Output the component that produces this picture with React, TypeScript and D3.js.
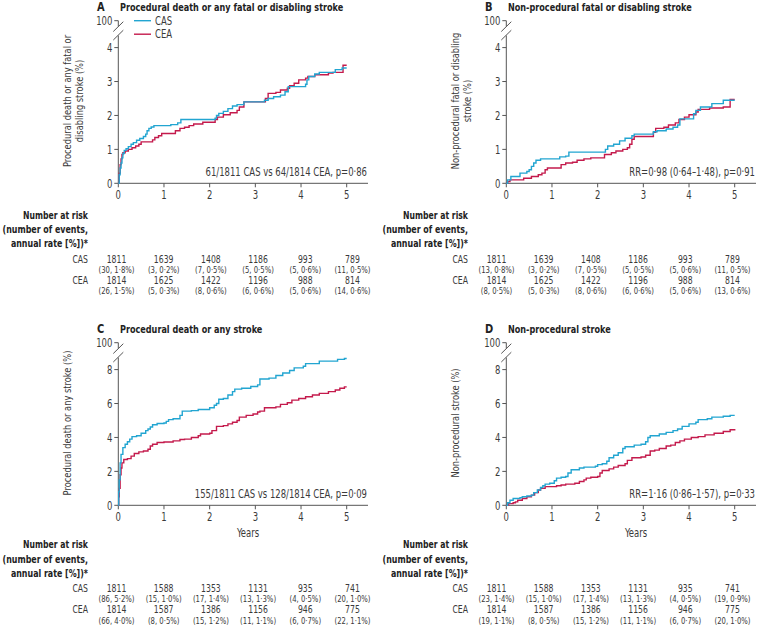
import React from 'react';
import * as d3 from 'd3';

type Pt = [number, number];

const yearTicks = [0, 1, 2, 3, 4, 5];
const seriesNames = ['CAS', 'CEA'];

// Panel A: procedural death or any fatal or disabling stroke
const casA: Pt[] = [[0,0],[0.02,0.25],[0.04,0.45],[0.06,0.6],[0.08,0.75],[0.1,0.88],[0.13,0.97],[0.17,1.02],[0.22,1.08],[0.28,1.15],[0.33,1.2],[0.4,1.27],[0.47,1.32],[0.55,1.38],[0.6,1.45],[0.63,1.55],[0.67,1.62],[0.72,1.66],[0.78,1.7],[1.15,1.73],[1.3,1.78],[1.37,1.88],[2.12,1.92],[2.15,2.0],[2.2,2.06],[2.3,2.12],[2.4,2.2],[2.5,2.28],[2.6,2.32],[2.75,2.4],[3.2,2.45],[3.28,2.5],[3.4,2.55],[3.55,2.6],[3.65,2.7],[3.72,2.85],[4.1,2.92],[4.13,3.05],[4.17,3.15],[4.3,3.22],[4.4,3.27],[4.75,3.35],[4.9,3.4],[5.0,3.4]];
const ceaA: Pt[] = [[0,0],[0.02,0.3],[0.04,0.55],[0.06,0.72],[0.08,0.85],[0.1,0.9],[0.15,0.95],[0.22,1.0],[0.3,1.05],[0.38,1.1],[0.45,1.15],[0.5,1.22],[0.75,1.28],[0.8,1.35],[0.88,1.4],[0.95,1.47],[1.25,1.55],[1.35,1.62],[1.45,1.65],[1.55,1.7],[1.65,1.75],[1.85,1.8],[2.12,1.88],[2.17,1.95],[2.3,2.02],[2.45,2.08],[2.6,2.15],[2.65,2.25],[2.75,2.4],[3.22,2.5],[3.28,2.65],[3.45,2.68],[3.55,2.75],[3.7,2.8],[3.75,2.88],[3.85,2.95],[3.95,3.05],[4.1,3.1],[4.15,3.15],[4.3,3.2],[4.6,3.25],[4.7,3.27],[4.92,3.48],[5.0,3.48]];

// Panel B: non-procedural fatal or disabling stroke
const casB: Pt[] = [[0,0],[0.03,0.1],[0.1,0.2],[0.3,0.3],[0.45,0.35],[0.5,0.4],[0.55,0.5],[0.6,0.6],[0.65,0.68],[0.75,0.72],[1.17,0.78],[1.3,0.8],[1.37,0.92],[2.17,1.0],[2.22,1.1],[2.35,1.15],[2.48,1.25],[2.6,1.33],[2.75,1.4],[2.8,1.45],[3.22,1.52],[3.3,1.55],[3.5,1.6],[3.65,1.65],[3.75,1.72],[3.8,1.9],[4.1,2.05],[4.15,2.15],[4.25,2.25],[4.5,2.35],[4.75,2.45],[5.0,2.45]];
const ceaB: Pt[] = [[0,0],[0.03,0.05],[0.08,0.1],[0.38,0.15],[0.55,0.2],[0.7,0.25],[0.78,0.3],[0.85,0.4],[0.9,0.45],[1.2,0.55],[1.3,0.6],[1.45,0.62],[1.55,0.68],[1.7,0.72],[1.85,0.75],[2.15,0.85],[2.3,0.9],[2.4,0.95],[2.55,1.0],[2.65,1.05],[2.7,1.15],[2.75,1.3],[2.8,1.38],[3.22,1.5],[3.27,1.62],[3.45,1.65],[3.55,1.72],[3.7,1.78],[3.78,1.88],[3.9,1.95],[4.0,2.02],[4.15,2.1],[4.2,2.18],[4.45,2.22],[4.75,2.25],[4.9,2.47],[5.0,2.47]];

// Panel C: procedural death or any stroke
const casC: Pt[] = [[0,0],[0.01,0.8],[0.02,1.5],[0.04,2.5],[0.06,3.0],[0.1,3.4],[0.15,3.6],[0.2,3.75],[0.25,3.9],[0.3,4.05],[0.4,4.1],[0.5,4.25],[0.6,4.4],[0.65,4.5],[0.7,4.62],[0.75,4.75],[0.85,4.82],[1.0,4.85],[1.05,4.95],[1.1,5.05],[1.2,5.1],[1.35,5.3],[1.4,5.55],[1.6,5.58],[1.75,5.65],[2.0,5.75],[2.1,5.9],[2.15,6.0],[2.2,6.25],[2.3,6.3],[2.4,6.5],[2.5,6.7],[2.55,6.85],[2.7,6.9],[2.9,7.0],[3.05,7.1],[3.1,7.45],[3.3,7.5],[3.45,7.65],[3.6,7.8],[3.75,7.95],[3.85,8.1],[4.05,8.2],[4.1,8.35],[4.4,8.5],[4.8,8.6],[4.95,8.65],[5.0,8.65]];
const ceaC: Pt[] = [[0,0],[0.01,0.5],[0.02,1.0],[0.04,1.8],[0.06,2.2],[0.08,2.5],[0.12,2.7],[0.2,2.75],[0.28,2.9],[0.35,3.05],[0.45,3.15],[0.55,3.2],[0.65,3.3],[0.7,3.5],[0.75,3.6],[0.85,3.7],[1.0,3.73],[1.2,3.8],[1.35,3.88],[1.45,3.9],[1.6,4.0],[1.75,4.1],[1.8,4.2],[2.0,4.25],[2.05,4.4],[2.15,4.65],[2.3,4.7],[2.4,4.8],[2.5,4.9],[2.6,5.0],[2.65,5.2],[2.8,5.3],[2.95,5.38],[3.05,5.5],[3.1,5.55],[3.2,5.75],[3.45,5.8],[3.55,5.95],[3.7,6.05],[3.8,6.2],[3.95,6.3],[4.1,6.4],[4.25,6.5],[4.4,6.6],[4.6,6.7],[4.75,6.8],[4.85,6.9],[4.95,6.98],[5.0,6.98]];

// Panel D: non-procedural stroke
const casD: Pt[] = [[0,0],[0.03,0.15],[0.08,0.3],[0.15,0.4],[0.3,0.45],[0.35,0.5],[0.45,0.55],[0.55,0.6],[0.6,0.75],[0.68,0.9],[0.75,1.05],[0.8,1.15],[0.85,1.25],[0.95,1.3],[1.05,1.45],[1.1,1.6],[1.2,1.65],[1.3,1.7],[1.35,1.9],[1.42,2.1],[1.6,2.2],[1.7,2.25],[1.95,2.3],[2.0,2.4],[2.1,2.45],[2.2,2.6],[2.25,2.8],[2.35,2.95],[2.45,3.1],[2.55,3.35],[2.6,3.45],[2.8,3.55],[2.95,3.6],[3.05,3.75],[3.1,4.0],[3.15,4.1],[3.35,4.2],[3.5,4.3],[3.65,4.4],[3.75,4.5],[3.85,4.65],[4.0,4.8],[4.15,4.9],[4.2,5.05],[4.4,5.1],[4.5,5.2],[4.75,5.25],[4.9,5.3],[5.0,5.3]];
const ceaD: Pt[] = [[0,0],[0.05,0.1],[0.15,0.15],[0.2,0.2],[0.25,0.3],[0.35,0.4],[0.45,0.5],[0.55,0.6],[0.62,0.75],[0.7,0.9],[0.75,1.0],[0.85,1.1],[1.1,1.15],[1.2,1.2],[1.3,1.25],[1.5,1.3],[1.6,1.4],[1.7,1.5],[1.75,1.6],[1.85,1.65],[2.0,1.7],[2.05,1.9],[2.1,2.05],[2.25,2.15],[2.35,2.25],[2.45,2.35],[2.6,2.45],[2.65,2.65],[2.75,2.8],[2.95,2.85],[3.05,2.95],[3.15,3.2],[3.25,3.25],[3.35,3.35],[3.5,3.5],[3.6,3.55],[3.7,3.7],[3.8,3.8],[3.9,3.9],[4.05,4.0],[4.2,4.05],[4.35,4.15],[4.55,4.25],[4.75,4.35],[4.9,4.45],[5.0,4.5]];

// Number at risk tables
const riskCasA = ['1811','1639','1408','1186','993','789'];
const evCasA = ['(30, 1·8%)','(3, 0·2%)','(7, 0·5%)','(5, 0·5%)','(5, 0·6%)','(11, 0·5%)'];
const riskCeaA = ['1814','1625','1422','1196','988','814'];
const evCeaA = ['(26, 1·5%)','(5, 0·3%)','(8, 0·6%)','(6, 0·6%)','(5, 0·6%)','(14, 0·6%)'];

const riskCasB = ['1811','1639','1408','1186','993','789'];
const evCasB = ['(13, 0·8%)','(3, 0·2%)','(7, 0·5%)','(5, 0·5%)','(5, 0·6%)','(11, 0·5%)'];
const riskCeaB = ['1814','1625','1422','1196','988','814'];
const evCeaB = ['(8, 0·5%)','(5, 0·3%)','(8, 0·6%)','(6, 0·6%)','(5, 0·6%)','(13, 0·6%)'];

const riskCasC = ['1811','1588','1353','1131','935','741'];
const evCasC = ['(86, 5·2%)','(15, 1·0%)','(17, 1·4%)','(13, 1·3%)','(4, 0·5%)','(20, 1·0%)'];
const riskCeaC = ['1814','1587','1386','1156','946','775'];
const evCeaC = ['(66, 4·0%)','(8, 0·5%)','(15, 1·2%)','(11, 1·1%)','(6, 0·7%)','(22, 1·1%)'];

const riskCasD = ['1811','1588','1353','1131','935','741'];
const evCasD = ['(23, 1·4%)','(15, 1·0%)','(17, 1·4%)','(13, 1·3%)','(4, 0·5%)','(19, 0·9%)'];
const riskCeaD = ['1814','1587','1386','1156','946','775'];
const evCeaD = ['(19, 1·1%)','(8, 0·5%)','(15, 1·2%)','(11, 1·1%)','(6, 0·7%)','(20, 1·0%)'];

const FONT = "'DejaVu Sans Condensed','Liberation Sans Narrow',sans-serif";
const CAS_COLOR = '#22a5d1';
const CEA_COLOR = '#c41a4c';
const AXIS = '#555';
const TEXT = '#3a3a3a';
const SX = 0.82;

interface TProps {
  x: number; y: number; size: number; anchor?: 'start' | 'middle' | 'end';
  weight?: number; fill?: string; rotate?: boolean; sx?: number; children: React.ReactNode;
}

function T({ x, y, size, anchor = 'start', weight = 400, fill = TEXT, rotate = false, sx = SX, children }: TProps) {
  const tr = `translate(${x},${y})${rotate ? ' rotate(-90)' : ''} scale(${sx},1)`;
  return <text transform={tr} textAnchor={anchor} fontSize={size} fontWeight={weight} fill={fill}>{children}</text>;
}

interface PanelProps {
  ox: number; oy: number; tdx: number;
  letter: string; title: string; ylabel: string[];
  yMax: number; yTicks: number[];
  cas: Pt[]; cea: Pt[];
  note: string; legend?: boolean; years?: boolean;
  rCas: string[]; eCas: string[]; rCea: string[]; eCea: string[];
}

function Panel(p: PanelProps) {
  const x = d3.scaleLinear().domain([0, 5]).range([p.ox + 118.3, p.ox + 346.7]);
  const y = d3.scaleLinear().domain([0, p.yMax]).range([p.oy + 183.3, p.oy + 47.6]);
  const tx = d3.scaleLinear().domain([0, 5]).range([p.ox + p.tdx + 116.5, p.ox + p.tdx + 352.5]);
  const line = d3.line<Pt>().x(d => x(d[0])).y(d => y(d[1])).curve(d3.curveStepAfter);
  const ax = x(0);
  const y0 = y(0);
  const yTop = p.oy + 20.7;
  const xEnd = p.ox + 368;
  const tShift = p.years ? 7.5 : 0;
  const tb = (v: number) => p.oy + v + tShift;
  const labX = tx(0) - 28.5;
  const nLab = p.ylabel.length;
  return (
    <g>
      <T x={p.ox + 97} y={p.oy + 11} size={12.5} weight={700} fill="#222" sx={0.88}>{p.letter}</T>
      <T x={p.ox + 120} y={p.oy + 11} size={11} weight={700} fill="#222">{p.title}</T>
      {p.ylabel.map((l, i) => {
        const cx = p.ox + (nLab === 1 ? 71 : 70.5 + i * 12.5);
        const cy = p.oy + 101;
        return <T key={i} x={cx} y={cy} size={11} anchor="middle" rotate sx={0.84}>{l}</T>;
      })}
      {/* y axis with break */}
      <line x1={ax} x2={ax} y1={yTop} y2={p.oy + 26.5} stroke={AXIS} strokeWidth={1} />
      <line x1={ax} x2={ax} y1={p.oy + 35.5} y2={y0} stroke={AXIS} strokeWidth={1} />
      <line x1={ax - 5} x2={ax + 5} y1={p.oy + 31.5} y2={p.oy + 21.7} stroke={AXIS} strokeWidth={1} />
      <line x1={ax - 5} x2={ax + 5} y1={p.oy + 40} y2={p.oy + 30.2} stroke={AXIS} strokeWidth={1} />
      <line x1={ax - 4} x2={ax} y1={yTop} y2={yTop} stroke={AXIS} />
      <T x={ax - 6} y={yTop + 4.2} size={11.5} anchor="end">100</T>
      {p.yTicks.map(t => (
        <g key={t}>
          <line x1={ax - 4} x2={ax} y1={y(t)} y2={y(t)} stroke={AXIS} />
          <T x={ax - 6} y={y(t) + 4.2} size={11.5} anchor="end">{t}</T>
        </g>
      ))}
      {/* x axis */}
      <line x1={ax} x2={xEnd} y1={y0} y2={y0} stroke={AXIS} />
      {yearTicks.map(t => (
        <g key={t}>
          <line x1={x(t)} x2={x(t)} y1={y0} y2={y0 + 4} stroke={AXIS} />
          <T x={x(t)} y={y0 + 15.5} size={11.5} anchor="middle">{t}</T>
        </g>
      ))}
      {p.years && <T x={p.ox + 248} y={p.oy + 215} size={11.5} anchor="middle">Years</T>}
      {/* curves */}
      <path d={line(p.cea) || ''} fill="none" stroke={CEA_COLOR} strokeWidth={1.4} />
      <path d={line(p.cas) || ''} fill="none" stroke={CAS_COLOR} strokeWidth={1.4} />
      <T x={xEnd - 1} y={p.oy + 176} size={11.5} anchor="end">{p.note}</T>
      {p.legend && (
        <g>
          {seriesNames.map((n, i) => (
            <g key={n}>
              <line x1={p.ox + 134} x2={p.ox + 151} y1={p.oy + 20.7 + i * 13.5} y2={p.oy + 20.7 + i * 13.5} stroke={i === 0 ? CAS_COLOR : CEA_COLOR} strokeWidth={1.4} />
              <T x={p.ox + 155} y={p.oy + 24.9 + i * 13.5} size={11.5}>{n}</T>
            </g>
          ))}
        </g>
      )}
      {/* number at risk table */}
      <T x={labX} y={tb(218.5)} size={11} anchor="end" weight={700} fill="#222" sx={0.78}>Number at risk</T>
      <T x={labX} y={tb(233)} size={11} anchor="end" weight={700} fill="#222" sx={0.8}>(number of events,</T>
      <T x={labX} y={tb(247)} size={11} anchor="end" weight={700} fill="#222" sx={0.8}>annual rate [%])*</T>
      <T x={labX} y={tb(262.5)} size={10} anchor="end" sx={0.86}>{seriesNames[0]}</T>
      <T x={labX} y={tb(283.8)} size={10} anchor="end" sx={0.86}>{seriesNames[1]}</T>
      {yearTicks.map((t, i) => (
        <g key={t}>
          <T x={tx(t)} y={tb(262.5)} size={10} anchor="middle" sx={0.86}>{p.rCas[i]}</T>
          <T x={tx(t)} y={tb(272.8)} size={8.5} anchor="middle" sx={0.9}>{p.eCas[i]}</T>
          <T x={tx(t)} y={tb(283.8)} size={10} anchor="middle" sx={0.86}>{p.rCea[i]}</T>
          <T x={tx(t)} y={tb(294.1)} size={8.5} anchor="middle" sx={0.9}>{p.eCea[i]}</T>
        </g>
      ))}
    </g>
  );
}

export default function App() {
  return (
    <svg width={758} height={630} style={{ position: 'absolute', left: 0, top: 0, background: '#fff' }} fontFamily={FONT}>
      <rect width={758} height={630} fill="#fff" />
      <Panel ox={0} oy={0} tdx={0} letter="A" title="Procedural death or any fatal or disabling stroke"
        ylabel={['Procedural death or any fatal or', 'disabling stroke (%)']} yMax={4} yTicks={[0, 1, 2, 3, 4]}
        cas={casA} cea={ceaA} note="61/1811 CAS vs 64/1814 CEA, p=0·86" legend
        rCas={riskCasA} eCas={evCasA} rCea={riskCeaA} eCea={evCeaA} />
      <Panel ox={388} oy={0} tdx={-8} letter="B" title="Non-procedural fatal or disabling stroke"
        ylabel={['Non-procedural fatal or disabling', 'stroke (%)']} yMax={4} yTicks={[0, 1, 2, 3, 4]}
        cas={casB} cea={ceaB} note="RR=0·98 (0·64–1·48), p=0·91"
        rCas={riskCasB} eCas={evCasB} rCea={riskCeaB} eCea={evCeaB} />
      <Panel ox={0} oy={322} tdx={0} letter="C" title="Procedural death or any stroke"
        ylabel={['Procedural death or any stroke (%)']} yMax={8} yTicks={[0, 2, 4, 6, 8]}
        cas={casC} cea={ceaC} note="155/1811 CAS vs 128/1814 CEA, p=0·09" years
        rCas={riskCasC} eCas={evCasC} rCea={riskCeaC} eCea={evCeaC} />
      <Panel ox={388} oy={322} tdx={-8} letter="D" title="Non-procedural stroke"
        ylabel={['Non-procedural stroke (%)']} yMax={8} yTicks={[0, 2, 4, 6, 8]}
        cas={casD} cea={ceaD} note="RR=1·16 (0·86–1·57), p=0·33" years
        rCas={riskCasD} eCas={evCasD} rCea={riskCeaD} eCea={evCeaD} />
    </svg>
  );
}
